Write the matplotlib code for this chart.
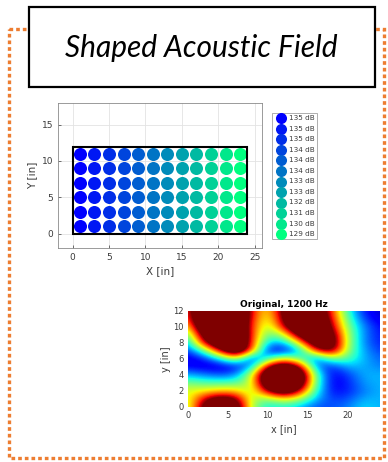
import numpy as np
import matplotlib.pyplot as plt
from matplotlib.patches import Rectangle

# speaker array (columns of circles) and their levels
col_x = [1, 3, 5, 7, 9, 11, 13, 15, 17, 19, 21, 23]
row_y = [1, 3, 5, 7, 9, 11]
col_db = [135, 135, 135, 134, 134, 134, 133, 133, 132, 131, 130, 129]

# measured field, 1200 Hz (rows y = 0..12, columns x = 0..24 step 2), normalised level
field_x = [0, 2, 4, 6, 8, 10, 12, 14, 16, 18, 20, 22, 24]
field_y = [0, 1, 2, 3, 4, 5, 6, 7, 8, 9, 10, 11, 12]
field = np.array([
    [0.55, 1.10, 1.40, 1.20, 0.55, 0.35, 0.38, 0.30, 0.20, 0.20, 0.25, 0.35, 0.30],
    [0.58, 0.95, 1.15, 1.05, 0.55, 0.50, 0.65, 0.55, 0.30, 0.18, 0.20, 0.30, 0.30],
    [0.62, 0.65, 0.70, 0.70, 0.55, 1.00, 1.25, 0.95, 0.40, 0.12, 0.15, 0.25, 0.30],
    [0.50, 0.45, 0.45, 0.45, 0.60, 1.30, 1.50, 1.25, 0.45, 0.10, 0.15, 0.28, 0.30],
    [0.30, 0.25, 0.20, 0.25, 0.60, 1.35, 1.50, 1.30, 0.45, 0.10, 0.18, 0.30, 0.30],
    [0.12, 0.08, 0.08, 0.12, 0.28, 1.00, 1.30, 1.00, 0.25, 0.15, 0.30, 0.30, 0.25],
    [0.08, 0.15, 0.35, 0.62, 0.12, 0.40, 0.65, 0.45, 0.20, 0.50, 0.45, 0.30, 0.22],
    [0.18, 0.45, 0.95, 1.35, 0.80, 0.12, 0.10, 0.30, 0.90, 1.10, 0.52, 0.28, 0.18],
    [0.30, 0.95, 1.35, 1.45, 0.85, 0.32, 0.30, 0.70, 1.25, 1.20, 0.55, 0.25, 0.15],
    [0.45, 1.15, 1.45, 1.45, 0.85, 0.45, 0.60, 1.15, 1.40, 1.10, 0.55, 0.25, 0.14],
    [0.65, 1.35, 1.45, 1.40, 0.85, 0.52, 0.95, 1.40, 1.40, 0.98, 0.50, 0.25, 0.12],
    [0.80, 1.40, 1.45, 1.40, 0.88, 0.58, 1.05, 1.45, 1.35, 0.90, 0.45, 0.18, 0.08],
    [0.85, 1.40, 1.40, 1.40, 0.90, 0.62, 1.10, 1.45, 1.25, 0.85, 0.40, 0.14, 0.06],
])

W, H = 388, 462
fig = plt.figure(figsize=(W / 100, H / 100), dpi=100)

# background layer in pixel coordinates: orange frame and title box
bg = fig.add_axes([0, 0, 1, 1])
bg.set_xlim(0, W)
bg.set_ylim(H, 0)
bg.axis('off')
bg.set_zorder(-1)
bg.add_patch(Rectangle((9, 29), 375, 429, fill=False, ec='#ED7D31', lw=2.4,
                       ls=(0, (1.1, 0.9))))
bg.add_patch(Rectangle((29, 7), 346, 80, fc='white', ec='black', lw=1.6, zorder=3))
bg.text(201, 48, 'Shaped Acoustic Field', fontsize=21.5, style='italic',
        family='Lato', ha='center', va='center', zorder=4)

def px_axes(x0, y0, x1, y1):
    return fig.add_axes([x0 / W, 1 - y1 / H, (x1 - x0) / W, (y1 - y0) / H])

tick_col = '#3a3a3a'

# speaker layout
ax1 = px_axes(58, 103, 262, 248)
colors = plt.cm.winter(np.linspace(0, 1, len(col_x)))
for i, cx in enumerate(col_x):
    ax1.scatter([cx] * len(row_y), row_y, s=88, color=colors[i], lw=0,
                label=f'{col_db[i]} dB', zorder=3)
ax1.add_patch(Rectangle((0, 0), 24, 12, fill=False, ec='black', lw=1.5, zorder=4))
ax1.set_xlim(-2, 26)
ax1.set_ylim(-2, 18)
ax1.set_xticks([0, 5, 10, 15, 20, 25])
ax1.set_yticks([0, 5, 10, 15])
ax1.grid(True, color='#e3e3e3', lw=0.6)
ax1.set_axisbelow(True)
ax1.tick_params(labelsize=6.5, colors=tick_col, direction='in', length=2, width=0.5)
for s in ax1.spines.values():
    s.set_color('#8a8a8a')
    s.set_linewidth(0.6)
ax1.set_xlabel('X [in]', fontsize=7.5, color=tick_col, labelpad=3)
ax1.set_ylabel('Y [in]', fontsize=7.5, color=tick_col, labelpad=3)
leg = ax1.legend(loc='upper left', bbox_to_anchor=(272 / W, 1 - 113 / H),
                 bbox_transform=fig.transFigure, fontsize=5.2, frameon=True,
                 fancybox=False, edgecolor='#8a8a8a', labelspacing=0.62,
                 handletextpad=0.3, borderpad=0.3, handlelength=1.8,
                 borderaxespad=0, scatterpoints=1, markerscale=0.85)
leg.get_frame().set_linewidth(0.6)
for t in leg.get_texts():
    t.set_color(tick_col)

# measured field
ax2 = px_axes(188, 311, 379, 407)
ax2.imshow(field, origin='lower', cmap='jet', vmin=0, vmax=1,
           extent=(field_x[0] - 1, field_x[-1] + 1, field_y[0] - 0.5, field_y[-1] + 0.5),
           interpolation='bicubic', aspect='auto')
ax2.set_xlim(0, 24)
ax2.set_ylim(0, 12)
ax2.set_xticks([0, 5, 10, 15, 20])
ax2.set_yticks([0, 2, 4, 6, 8, 10, 12])
ax2.tick_params(labelsize=6, colors=tick_col, direction='in', length=0, pad=3)
for s in ax2.spines.values():
    s.set_visible(False)
ax2.set_title('Original, 1200 Hz', fontsize=6.5, fontweight='bold', pad=3)
ax2.set_xlabel('x [in]', fontsize=7, color=tick_col, labelpad=3)
ax2.set_ylabel('y [in]', fontsize=7, color=tick_col, labelpad=2)

fig.savefig('out.png', dpi=100)
